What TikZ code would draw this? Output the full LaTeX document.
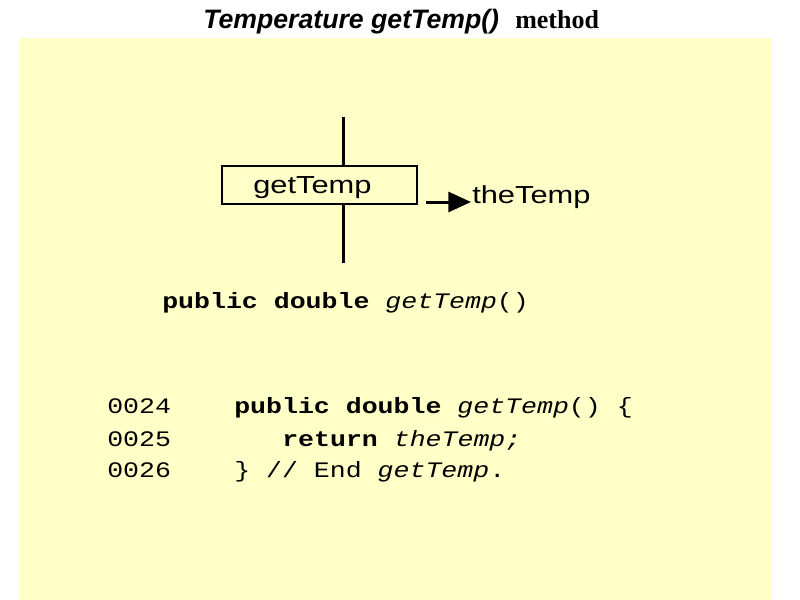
\documentclass[tikz,border=0pt]{standalone}
\usepackage{fontspec}
\usetikzlibrary{arrows.meta}
\newfontfamily\titlesans{Liberation Sans}
\newfontfamily\titleserif{Liberation Serif}
\newfontfamily\diagsans[FakeStretch=1.25]{Liberation Sans}
\newfontfamily\codefont[FakeStretch=1.2]{Liberation Mono}
\definecolor{bgyellow}{HTML}{FFFFC8}
\tikzset{
  txt/.style={inner sep=0pt, anchor=base west},
  codetxt/.style={txt, font=\codefont\fontsize{16.6pt}{18pt}\selectfont},
  diagtxt/.style={txt, font=\diagsans\fontsize{18.5pt}{20pt}\selectfont},
  thick line/.style={line width=2.25pt},
}
\begin{document}
\begin{tikzpicture}[x=0.75pt, y=-0.75pt]
\useasboundingbox (0,0) rectangle (800,600);
\fill[white] (0,0) rectangle (800,600);
\fill[bgyellow] (20,38) rectangle (772,600);
% title
\node[txt, font=\titlesans\bfseries\itshape\fontsize{20pt}{22pt}\selectfont] (t1) at (203,28) {Temperature getTemp()};
\node[txt, font=\titleserif\bfseries\fontsize{19.5pt}{22pt}\selectfont] (t2) at (515,28) {method};
% diagram
\coordinate (vtop) at (343,117);
\coordinate (vbot) at (343,263);
\node[draw, line width=1.5pt, minimum width=195*0.75pt, minimum height=38*0.75pt, inner sep=0pt, anchor=north west] (box) at (221,165) {};
\node[diagtxt] (boxlbl) at (253,193) {getTemp};
\draw[thick line] (vtop) -- (box.north -| vtop);
\draw[thick line] (box.south -| vbot) -- (vbot);
\coordinate (astart) at (426,202);
\coordinate (aend) at (471,202);
\node[diagtxt] (ret) at (472,203) {theTemp};
\draw[thick line, -{Triangle[length=17pt,width=15pt]}] (astart) -- (aend);
% signature
\node[codetxt] (sig) at (162,308) {\textbf{public double} \textit{getTemp}()};
% code listing
\node[codetxt] (n24) at (107,413) {0024};
\node[codetxt] (n25) at (107,446) {0025};
\node[codetxt] (n26) at (107,477) {0026};
\node[codetxt] (c24) at (234,413) {\textbf{public double} \textit{getTemp}() \{};
\node[codetxt] (c25) at (282,446) {\textbf{return} \textit{theTemp;}};
\node[codetxt] (c26) at (234,477) {\} // End \textit{getTemp}.};
\end{tikzpicture}
\end{document}
